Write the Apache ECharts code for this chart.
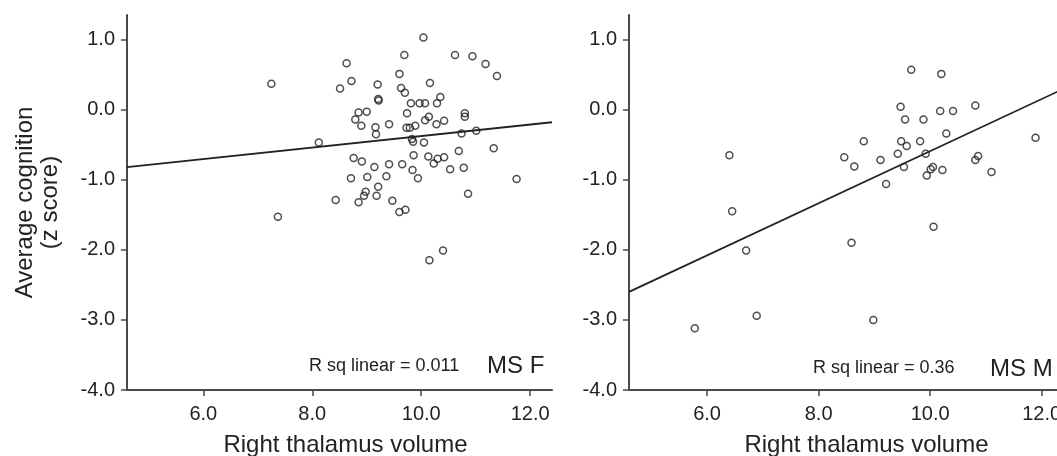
<!DOCTYPE html>
<html>
<head>
<meta charset="utf-8">
<script src="https://cdn.jsdelivr.net/npm/echarts@6/dist/echarts.min.js"></script>
<style>
    html, body { margin: 0; padding: 0; background: #fff; }
    #chart { width: 1057px; height: 456px; }
</style>
</head>
<body>
<div id="chart"></div>
<script>
// MS F : [右丘脑体积, 平均认知 z 分]
var pointsF = [
    [10.04, 1.03], [9.69, 0.78], [10.62, 0.78], [10.94, 0.76], [11.18, 0.65], [8.63, 0.66],
    [11.39, 0.48], [9.60, 0.51], [7.25, 0.37], [8.72, 0.41], [8.51, 0.30], [9.20, 0.36],
    [10.16, 0.38], [9.63, 0.31], [9.70, 0.24], [9.21, 0.15], [9.22, 0.13], [9.81, 0.09],
    [9.97, 0.09], [10.07, 0.09], [10.35, 0.18], [10.29, 0.09], [8.85, -0.04], [9.00, -0.03],
    [8.79, -0.14], [8.90, -0.23], [9.16, -0.25], [9.17, -0.35], [9.41, -0.21], [9.74, -0.05],
    [10.07, -0.15], [10.14, -0.10], [10.28, -0.21], [10.42, -0.16], [9.73, -0.26], [9.79, -0.26],
    [9.89, -0.23], [10.80, -0.05], [10.80, -0.10], [9.83, -0.42], [9.85, -0.46], [10.05, -0.47],
    [8.12, -0.47], [10.74, -0.34], [11.01, -0.30], [11.33, -0.55], [10.69, -0.59], [9.86, -0.65],
    [10.13, -0.67], [10.23, -0.77], [10.30, -0.70], [10.42, -0.68], [8.76, -0.69], [8.91, -0.74],
    [9.14, -0.82], [9.41, -0.78], [9.65, -0.78], [9.84, -0.86], [9.94, -0.98], [10.53, -0.85],
    [10.78, -0.83], [11.75, -0.99], [8.71, -0.98], [9.01, -0.96], [9.36, -0.95], [9.21, -1.10],
    [8.98, -1.17], [8.95, -1.23], [9.18, -1.23], [10.86, -1.20], [8.43, -1.29], [8.85, -1.32],
    [9.47, -1.30], [9.60, -1.46], [9.71, -1.43], [7.37, -1.53], [10.15, -2.15], [10.40, -2.01]
];

// MS M
var pointsM = [
    [9.66, 0.57], [10.20, 0.51], [9.47, 0.04], [10.18, -0.02], [10.41, -0.02], [10.81, 0.06],
    [9.55, -0.14], [9.88, -0.14], [10.29, -0.34], [11.89, -0.40], [8.81, -0.45], [9.48, -0.45],
    [9.58, -0.52], [9.82, -0.45], [6.40, -0.65], [8.46, -0.68], [8.64, -0.81], [9.11, -0.72],
    [9.42, -0.63], [9.53, -0.82], [9.92, -0.63], [10.05, -0.82], [10.01, -0.85], [10.22, -0.86],
    [9.94, -0.94], [10.81, -0.72], [10.86, -0.66], [11.10, -0.89], [9.21, -1.06], [6.45, -1.45],
    [10.06, -1.67], [6.70, -2.01], [8.59, -1.90], [5.78, -3.12], [6.89, -2.94], [8.98, -3.00]
];

// 拟合直线端点
var fitF = [[4.6, -0.82], [12.4, -0.18]];
var fitM = [[4.6, -2.60], [12.4, 0.30]];

var xTicks = [6, 8, 10, 12];
var yTicks = [-4, -3, -2, -1, 0, 1];

var xName = 'Right thalamus volume';
var yName = 'Average cognition\n(z score)';
var labelsF = ['R sq linear = 0.011', 'MS F'];
var labelsM = ['R sq linear = 0.36', 'MS M'];

var FONT = '"Liberation Sans", Arial, sans-serif';
var AXIS_COLOR = '#4a4a4a';
var TEXT_COLOR = '#222';

initChart();

//初始化 两个散点图
function initChart() {
    var myChart = echarts.init(document.getElementById('chart'));

    function xAxisOf(gridIndex, shift) {
        return {
            type: 'value',
            gridIndex: gridIndex,
            min: 4.6,
            max: 12.4,
            name: xName,
            nameLocation: 'middle',
            nameGap: 43,
            nameTextStyle: {
                fontFamily: FONT,
                fontSize: 24,
                color: TEXT_COLOR,
                padding: [0, 0, 0, shift]
            },
            splitLine: {show: false},
            axisLine: {onZero: false, lineStyle: {color: AXIS_COLOR, width: 2}},
            axisTick: {customValues: xTicks, length: 6, lineStyle: {color: AXIS_COLOR, width: 1.5}},
            axisLabel: {
                customValues: xTicks,
                margin: 14,
                fontFamily: FONT,
                fontSize: 20,
                color: TEXT_COLOR,
                formatter: function (v) { return v.toFixed(1); }
            }
        };
    }

    function yAxisOf(gridIndex, withName) {
        return {
            type: 'value',
            gridIndex: gridIndex,
            min: -4,
            max: 1.35,
            name: withName ? yName : '',
            nameLocation: 'middle',
            nameRotate: 90,
            nameGap: 64,
            nameTextStyle: {
                fontFamily: FONT,
                fontSize: 24,
                lineHeight: 25,
                color: TEXT_COLOR
            },
            splitLine: {show: false},
            axisLine: {onZero: false, lineStyle: {color: AXIS_COLOR, width: 2}},
            axisTick: {customValues: yTicks, length: 6, lineStyle: {color: AXIS_COLOR, width: 1.5}},
            axisLabel: {
                customValues: yTicks,
                margin: 12,
                fontFamily: FONT,
                fontSize: 20,
                color: TEXT_COLOR,
                formatter: function (v) { return v.toFixed(1); }
            }
        };
    }

    function scatterOf(idx, data) {
        return {
            type: 'scatter',
            xAxisIndex: idx,
            yAxisIndex: idx,
            data: data,
            symbol: 'circle',
            symbolSize: 7,
            silent: true,
            itemStyle: {
                color: 'rgba(255,255,255,0)',
                borderColor: '#222',
                borderWidth: 1.5
            }
        };
    }

    function fitOf(idx, data) {
        return {
            type: 'line',
            xAxisIndex: idx,
            yAxisIndex: idx,
            data: data,
            showSymbol: false,
            silent: true,
            lineStyle: {color: '#222', width: 1.8}
        };
    }

    function note(left, y, text, size) {
        return {
            type: 'text',
            left: left,
            top: y,
            style: {
                text: text,
                fontFamily: FONT,
                fontSize: size,
                fill: TEXT_COLOR
            }
        };
    }

    var option = {
        animation: false,
        backgroundColor: '#fff',
        grid: [
            {left: 127, top: 15, width: 425, height: 375, outerBoundsMode: 'none'},
            {left: 629, top: 15, width: 435, height: 375, outerBoundsMode: 'none'}
        ],
        xAxis: [xAxisOf(0, 12), xAxisOf(1, 40)],
        yAxis: [yAxisOf(0, true), yAxisOf(1, false)],
        series: [
            fitOf(0, fitF),
            scatterOf(0, pointsF),
            fitOf(1, fitM),
            scatterOf(1, pointsM)
        ],
        graphic: [
            note(309, 357, labelsF[0], 18),
            note(487, 354, labelsF[1], 24),
            note(813, 359, labelsM[0], 18),
            note(990, 357, labelsM[1], 24)
        ]
    };

    // 使用刚指定的配置项和数据显示图表。
    myChart.setOption(option);
}
</script>
</body>
</html>
